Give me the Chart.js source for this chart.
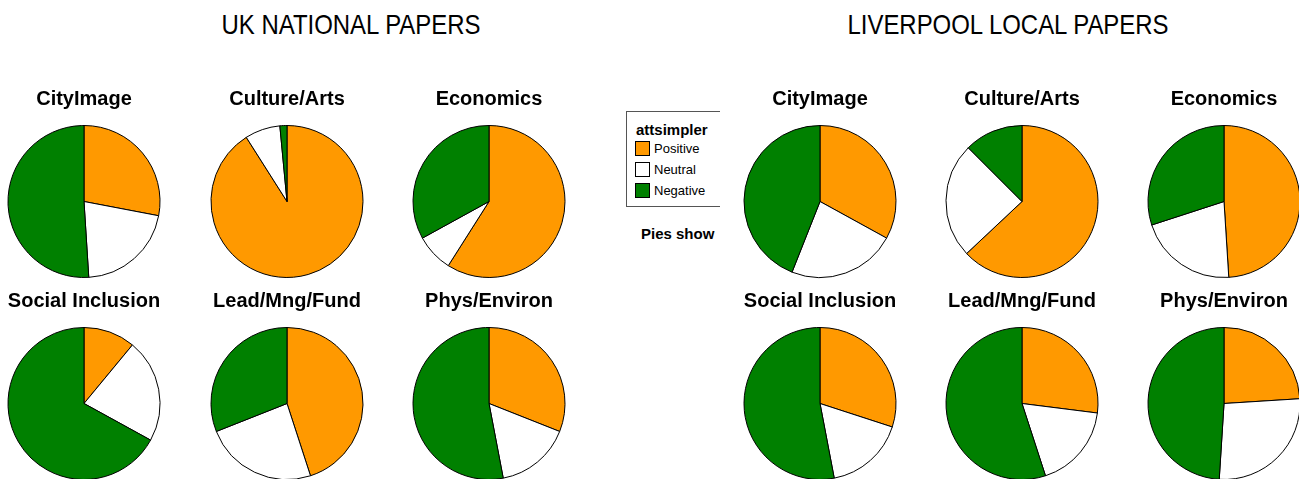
<!DOCTYPE html>
<html>
<head>
<meta charset="utf-8">
<script src="https://cdn.jsdelivr.net/npm/chart.js@4/dist/chart.umd.min.js"></script>
<style>
  body { margin: 0; width: 1299px; height: 479px; overflow: hidden; background: #fff; position: relative; font-family: 'Liberation Sans', Arial, sans-serif; }
  .group-title { position: absolute; top: 8px; font-size: 28px; line-height: 34px; color: #000; white-space: nowrap; transform: translateX(-50%) scaleX(0.855); }
  canvas.pie { position: absolute; background: #fff; z-index: 2; }
  #legend { position: absolute; left: 626px; top: 111px; width: 120px; height: 94px; border: 1px solid #555; border-right: none; z-index: 1; }
  #legend .head { position: absolute; left: 9px; top: 9px; font-size: 15px; font-weight: bold; }
  #legend .row { position: absolute; left: 8px; height: 15px; font-size: 13px; line-height: 15px; }
  #legend .sw { display: inline-block; width: 13px; height: 13px; border: 1px solid #000; vertical-align: top; margin-right: 4px; }
  #pies-show { position: absolute; left: 641px; top: 225px; font-size: 15px; font-weight: bold; z-index: 1; white-space: nowrap; }
</style>
</head>
<body>
<div class="group-title" style="left:351px">UK NATIONAL PAPERS</div>
<div class="group-title" style="left:1008px">LIVERPOOL LOCAL PAPERS</div>
<div id="legend"></div>
<div id="pies-show">Pies show</div>

<script>
// Data
const categories = ['Positive', 'Neutral', 'Negative'];
const topics = ['CityImage', 'Culture/Arts', 'Economics', 'Social Inclusion', 'Lead/Mng/Fund', 'Phys/Environ'];

// UK national papers (% of coverage)
const ukPositive = [28, 91, 59, 11, 45, 31];
const ukNeutral = [21, 7.5, 8, 22, 24, 16];
const ukNegative = [51, 1.5, 33, 67, 31, 53];

// Liverpool local papers (% of coverage)
const lvPositive = [33, 63, 49, 30, 27, 24];
const lvNeutral = [23, 24.5, 21, 17, 18, 27];
const lvNegative = [44, 12.5, 30, 53, 55, 49];

const colors = ['#ff9900', '#ffffff', '#008000'];
const fontFamily = "'Liberation Sans', Arial, sans-serif";

// Layout
const colCentersUK = [84, 287, 489];
const colCentersLV = [820, 1022, 1224];
const rowTops = [80, 282];
const canvasW = 200;
const canvasH = 202;

function makePie(topicIndex, values, centerX) {
  const row = Math.floor(topicIndex / 3);
  const canvas = document.createElement('canvas');
  canvas.className = 'pie';
  canvas.width = canvasW;
  canvas.height = canvasH;
  canvas.style.left = (centerX - canvasW / 2) + 'px';
  canvas.style.top = rowTops[row] + 'px';
  document.body.appendChild(canvas);

  new Chart(canvas.getContext('2d'), {
    type: 'pie',
    data: {
      labels: categories,
      datasets: [{
        data: values,
        backgroundColor: colors,
        borderColor: '#000',
        borderWidth: 1,
        radius: 76
      }]
    },
    options: {
      responsive: false,
      animation: false,
      devicePixelRatio: 1,
      layout: { padding: 0 },
      plugins: {
        legend: { display: false },
        tooltip: { enabled: false },
        title: {
          display: true,
          text: topics[topicIndex],
          color: '#000',
          font: { family: fontFamily, size: 20, weight: 'bold', lineHeight: 1.2 },
          padding: { top: 7, bottom: 10 }
        }
      }
    }
  });
}

topics.forEach((t, i) => {
  makePie(i, [ukPositive[i], ukNeutral[i], ukNegative[i]], colCentersUK[i % 3]);
  makePie(i, [lvPositive[i], lvNeutral[i], lvNegative[i]], colCentersLV[i % 3]);
});

// Legend box
const legendEl = document.getElementById('legend');
legendEl.innerHTML = '<div class="head">attsimpler</div>' +
  categories.map((c, i) =>
    `<div class="row" style="top:${29 + i * 21}px"><span class="sw" style="background:${colors[i]}"></span>${c}</div>`
  ).join('');
</script>
</body>
</html>
